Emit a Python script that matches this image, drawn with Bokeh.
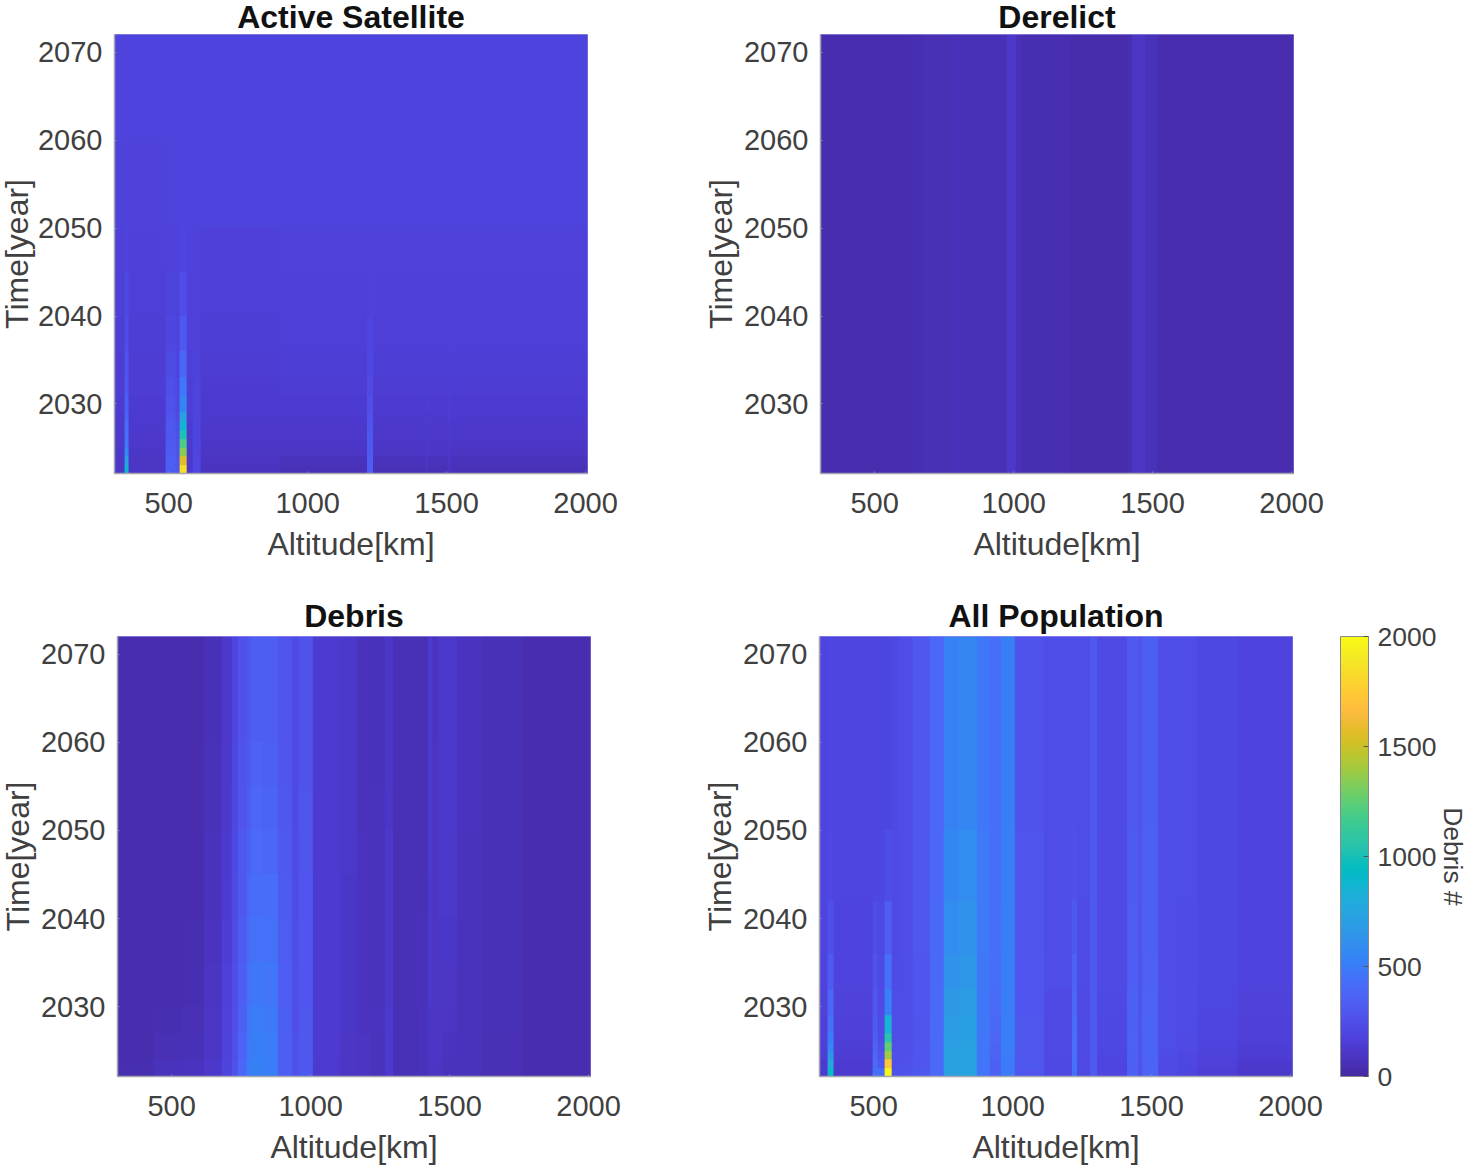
import numpy as np
from bokeh.embed import file_html
from bokeh.layouts import column, row
from bokeh.models import ColorBar, FixedTicker, LinearAxis, LinearColorMapper
from bokeh.plotting import figure
from bokeh.resources import INLINE

# ---------------- chart data ----------------
titles = ["Active Satellite", "Derelict", "Debris", "All Population"]
x_ticks = [500, 1000, 1500, 2000]
y_ticks = [2030, 2040, 2050, 2060, 2070]
cbar_ticks = [0, 500, 1000, 1500, 2000]
x_label = "Altitude[km]"
y_label = "Time[year]"
cbar_label = "Debris #"

# Active Satellite
a_alt = [305, 341, 355, 491, 524, 541, 563, 585, 613, 900, 1212, 1233, 1419, 1430, 1502, 1516, 2010]
a_year = [2022, 2023, 2024, 2025, 2026, 2027, 2028, 2029, 2031, 2033, 2036, 2040, 2045, 2050, 2060, 2072]
a_vals = [
    [95, 880, 95, 340, 300, 1850, 110, 205, 80, 62, 330, 62, 85, 62, 90, 58],
    [100, 700, 100, 330, 285, 1560, 115, 200, 88, 76, 320, 76, 95, 76, 100, 72],
    [108, 560, 108, 320, 270, 1350, 122, 195, 98, 94, 310, 94, 110, 94, 112, 90],
    [115, 480, 115, 310, 260, 1200, 130, 192, 106, 106, 300, 106, 120, 106, 122, 104],
    [122, 440, 122, 300, 245, 1020, 135, 190, 114, 116, 290, 116, 128, 116, 130, 115],
    [128, 400, 128, 290, 235, 860, 140, 188, 120, 124, 275, 124, 135, 124, 136, 123],
    [132, 370, 132, 280, 225, 720, 145, 185, 126, 130, 260, 130, 140, 130, 142, 130],
    [136, 340, 136, 265, 215, 560, 150, 182, 132, 136, 245, 136, 145, 136, 146, 136],
    [142, 300, 142, 245, 205, 470, 155, 180, 138, 143, 225, 143, 150, 143, 152, 143],
    [148, 270, 148, 225, 195, 390, 160, 178, 146, 150, 205, 150, 155, 150, 158, 150],
    [155, 240, 155, 200, 185, 310, 165, 175, 153, 158, 188, 158, 161, 158, 163, 158],
    [162, 212, 162, 180, 176, 240, 170, 174, 161, 165, 178, 165, 167, 165, 168, 165],
    [170, 186, 170, 176, 176, 192, 174, 176, 170, 172, 174, 172, 173, 172, 174, 172],
    [178, 180, 178, 180, 180, 182, 180, 180, 180, 180, 180, 180, 180, 180, 180, 180],
    [185, 185, 185, 185, 185, 185, 185, 185, 185, 185, 185, 185, 185, 185, 185, 185],
]

# Derelict
b_alt = [305, 617, 674, 782, 799, 975, 1004, 1032, 1201, 1405, 1423, 1441, 1470, 1516, 2010]
b_year = [2022, 2072]
b_vals = [
    [32, 40, 52, 70, 60, 110, 56, 42, 30, 42, 100, 95, 70, 32],
]

# Debris
c_alt = [305, 434, 534, 617, 678, 713, 735, 771, 785, 825, 878, 928, 957, 1007, 1104, 1165, 1212,
         1265, 1294, 1384, 1419, 1437, 1455, 1473, 1523, 1616, 1760, 2010]
c_year = [2022, 2024, 2027, 2030, 2035, 2040, 2045, 2050, 2055, 2060, 2072]
c_vals = [
    [40, 75, 85, 112, 180, 262, 385, 505, 525, 505, 342, 250, 292, 132, 98, 86, 76, 128, 60, 72, 92, 92, 92, 78, 72, 52, 35],
    [36, 48, 56, 100, 174, 256, 365, 485, 510, 495, 340, 250, 290, 134, 100, 86, 78, 130, 60, 74, 98, 94, 94, 84, 74, 54, 35],
    [35, 40, 48, 94, 166, 248, 350, 465, 495, 485, 338, 248, 290, 135, 102, 85, 79, 128, 61, 72, 104, 94, 98, 90, 76, 55, 35],
    [35, 36, 42, 90, 158, 242, 335, 440, 475, 465, 334, 244, 288, 135, 104, 85, 78, 124, 61, 68, 110, 92, 102, 98, 77, 55, 35],
    [35, 35, 40, 84, 148, 234, 320, 410, 450, 440, 328, 240, 285, 135, 106, 84, 76, 120, 62, 64, 116, 90, 106, 106, 78, 55, 35],
    [35, 35, 38, 78, 138, 222, 304, 375, 425, 415, 318, 234, 282, 135, 108, 82, 74, 114, 62, 60, 120, 90, 110, 110, 78, 55, 35],
    [34, 34, 37, 73, 130, 212, 292, 348, 400, 390, 310, 230, 280, 135, 110, 80, 72, 110, 62, 56, 125, 90, 114, 114, 78, 55, 35],
    [34, 34, 36, 68, 122, 204, 280, 325, 380, 368, 298, 226, 276, 135, 110, 78, 71, 108, 61, 54, 128, 88, 118, 118, 79, 55, 35],
    [34, 34, 35, 64, 116, 197, 270, 306, 360, 348, 288, 222, 272, 135, 110, 76, 70, 106, 60, 52, 130, 86, 120, 120, 80, 55, 35],
    [34, 34, 35, 60, 110, 190, 260, 290, 340, 330, 280, 220, 270, 135, 110, 75, 70, 105, 60, 50, 130, 85, 120, 120, 80, 55, 35],
]

# All Population
d_alt = [305, 337, 355, 495, 513, 541, 563, 592, 642, 699, 749, 803, 868, 914, 957, 1007, 1108, 1212,
         1229, 1276, 1301, 1412, 1448, 1466, 1520, 1588, 1659, 1803, 2010]
d_year = [2022, 2023, 2024, 2025, 2026, 2027, 2029, 2032, 2036, 2042, 2050, 2072]
d_vals = [
    [130, 930, 125, 440, 420, 1980, 260, 270, 290, 395, 720, 730, 460, 350, 490, 285, 210, 440, 215, 305, 190, 345, 270, 360, 220, 190, 155, 115],
    [140, 760, 135, 400, 310, 1720, 255, 260, 285, 395, 720, 730, 465, 350, 490, 290, 215, 440, 220, 310, 195, 345, 275, 365, 225, 200, 165, 130],
    [150, 640, 145, 380, 270, 1400, 250, 255, 285, 395, 720, 730, 465, 360, 495, 290, 220, 435, 220, 310, 200, 350, 275, 370, 230, 210, 175, 145],
    [160, 560, 155, 360, 250, 1250, 245, 250, 285, 395, 710, 720, 465, 365, 495, 290, 225, 430, 222, 310, 205, 355, 280, 370, 235, 220, 185, 155],
    [165, 500, 160, 340, 240, 1050, 240, 245, 280, 395, 690, 700, 465, 375, 500, 290, 225, 430, 225, 310, 210, 355, 280, 370, 240, 225, 190, 165],
    [170, 440, 165, 320, 230, 850, 235, 240, 280, 395, 680, 700, 470, 385, 500, 290, 225, 420, 225, 305, 210, 350, 280, 370, 245, 228, 195, 170],
    [175, 380, 175, 295, 225, 520, 235, 240, 285, 395, 660, 680, 470, 410, 505, 285, 225, 390, 225, 310, 215, 345, 280, 365, 245, 230, 200, 175],
    [185, 320, 180, 270, 225, 430, 230, 240, 285, 392, 620, 650, 470, 420, 510, 285, 235, 360, 230, 310, 220, 335, 280, 355, 248, 232, 205, 180],
    [190, 250, 185, 235, 215, 330, 225, 240, 290, 392, 590, 620, 480, 425, 510, 280, 240, 310, 232, 310, 222, 325, 275, 350, 248, 232, 205, 182],
    [195, 205, 190, 200, 200, 235, 225, 240, 290, 390, 560, 590, 480, 420, 510, 275, 240, 265, 235, 305, 225, 315, 275, 345, 248, 235, 205, 185],
    [195, 198, 190, 195, 195, 200, 215, 235, 290, 385, 530, 560, 470, 420, 510, 270, 245, 248, 235, 300, 225, 310, 270, 340, 245, 235, 205, 185],
]

# MATLAB parula, 64 levels
parula_rgb = [
    (.2422, .1504, .6603), (.2504, .1650, .7076), (.2578, .1818, .7511), (.2647, .1978, .7952),
    (.2706, .2147, .8364), (.2751, .2342, .8710), (.2783, .2559, .8991), (.2803, .2782, .9221),
    (.2813, .3006, .9414), (.2810, .3228, .9579), (.2795, .3447, .9717), (.2760, .3667, .9829),
    (.2699, .3892, .9906), (.2602, .4123, .9952), (.2440, .4358, .9988), (.2206, .4603, .9973),
    (.1963, .4847, .9892), (.1834, .5074, .9798), (.1786, .5289, .9682), (.1764, .5499, .9520),
    (.1687, .5703, .9359), (.1540, .5902, .9218), (.1460, .6091, .9079), (.1380, .6276, .8973),
    (.1248, .6459, .8883), (.1113, .6635, .8763), (.0952, .6798, .8598), (.0689, .6948, .8394),
    (.0297, .7082, .8163), (.0036, .7203, .7917), (.0067, .7312, .7660), (.0433, .7411, .7394),
    (.0964, .7500, .7120), (.1408, .7584, .6842), (.1717, .7670, .6554), (.1938, .7758, .6251),
    (.2161, .7843, .5923), (.2470, .7918, .5567), (.2906, .7973, .5188), (.3406, .8008, .4789),
    (.3909, .8029, .4354), (.4456, .8024, .3909), (.5044, .7993, .3480), (.5616, .7942, .3045),
    (.6174, .7876, .2612), (.6720, .7793, .2227), (.7242, .7698, .1910), (.7738, .7598, .1646),
    (.8203, .7498, .1535), (.8634, .7406, .1596), (.9035, .7330, .1774), (.9393, .7288, .2100),
    (.9728, .7298, .2394), (.9956, .7434, .2371), (.9970, .7659, .2199), (.9952, .7893, .2028),
    (.9892, .8136, .1885), (.9786, .8386, .1766), (.9676, .8639, .1643), (.9610, .8890, .1537),
    (.9597, .9135, .1423), (.9628, .9373, .1265), (.9691, .9606, .1064), (.9769, .9839, .0805),
]
_rgb = np.array(parula_rgb)
_t = np.linspace(0, 1, 256)
_lev = np.linspace(0, 1, 64)
PALETTE = []
for t in _t:
    r, g, b = (np.interp(t, _lev, _rgb[:, i]) for i in range(3))
    PALETTE.append("#%02x%02x%02x" % (
        min(255, round(r * 255 + 8 * (1 - t))),
        min(255, round(g * 255 + 4 * (1 - t))),
        round(b * 255 * (1 - 0.03 * (1 - t))),
    ))
mapper = LinearColorMapper(palette=PALETTE, low=0, high=2000)

FONT = "Liberation Sans"
TEXT = "#404040"
X0, X1, Y0, Y1 = 305, 2007, 2022.1, 2072
ALT_STEP = 5
ROW_START, ROW_END = 2022, 2072


def grid(alt_edges, year_edges, vals):
    """Lay the read-off blocks out on a regular altitude/year raster."""
    vals = np.asarray(vals, dtype=float)
    alts = np.arange(X0, X1 + ALT_STEP, ALT_STEP) + ALT_STEP / 2
    alts = alts[alts < alt_edges[-1]]
    years = np.arange(ROW_START, ROW_END) + 0.5
    ci = np.searchsorted(alt_edges, alts) - 1
    ri = np.searchsorted(year_edges, years) - 1
    return vals[np.ix_(ri, ci)]


def panel(title, alts, years, vals, left, right, top, bottom, fh, title_gap, ylabel_gap=2):
    p = figure(
        width=left + 473 + right, height=top + fh + bottom,
        frame_width=473, frame_height=fh,
        min_border_left=left, min_border_right=right, min_border_top=top, min_border_bottom=bottom,
        x_range=(X0, X1), y_range=(Y0, Y1),
        title=title, toolbar_location=None, output_backend="svg",
    )
    img = grid(alts, years, vals)
    p.image(image=[img], x=X0, y=ROW_START, dw=img.shape[1] * ALT_STEP, dh=ROW_END - ROW_START, color_mapper=mapper)
    p.grid.visible = False
    p.outline_line_color = "#8e8ae0"
    p.title.align = "center"
    p.title.text_font = FONT
    p.title.text_font_size = "32px"
    p.title.text_font_style = "bold"
    p.title.text_color = "#111111"
    p.title.text_line_height = 0.85
    p.title.standoff = title_gap
    p.title.offset = 0
    for ax, ticks, lab in ((p.xaxis[0], x_ticks, x_label), (p.yaxis[0], y_ticks, y_label)):
        ax.ticker = FixedTicker(ticks=ticks)
        ax.axis_label = lab
        ax.axis_label_text_font = FONT
        ax.axis_label_text_font_size = "32px"
        ax.axis_label_text_font_style = "normal"
        ax.axis_label_text_color = TEXT
        ax.major_label_text_font = FONT
        ax.major_label_text_font_size = "29px"
        ax.major_label_text_color = TEXT
        ax.axis_line_color = "#a5a5b0"
        ax.axis_line_width = 1.5
        ax.major_tick_in = 2
        ax.major_tick_out = 0
        ax.major_tick_line_color = "#8a8ab0"
        ax.minor_tick_line_color = None
    p.xaxis[0].major_label_standoff = 19
    p.xaxis[0].axis_label_standoff = 10
    p.yaxis[0].major_label_standoff = 12
    p.yaxis[0].axis_label_standoff = ylabel_gap
    return p


pa = panel(titles[0], a_alt, a_year, a_vals, 122, 111, 38, 119, 439, 0, ylabel_gap=0)
pb = panel(titles[1], b_alt, b_year, b_vals, 122, 173, 38, 119, 439, 0)
pc = panel(titles[2], c_alt, c_year, c_vals, 125, 107, 44, 90, 440, 6)
pd_ = panel(titles[3], d_alt, d_year, d_vals, 122, 174, 44, 90, 440, 6)

cb = ColorBar(
    color_mapper=mapper, width=28, height=440, margin=0, padding=0,
    location=(521, 0),
    ticker=FixedTicker(ticks=cbar_ticks),
    major_label_text_font=FONT, major_label_text_font_size="26.5px", major_label_text_color=TEXT,
    major_tick_line_color="#555555", major_tick_in=5, major_tick_out=0,
    bar_line_color="#8a8a8a", label_standoff=9,
)
pd_.add_layout(cb)
cb_title = LinearAxis(
    ticker=FixedTicker(ticks=[]), axis_label=cbar_label, axis_line_color=None,
    major_tick_line_color=None, minor_tick_line_color=None, major_label_text_font_size="0px",
    axis_label_text_font=FONT, axis_label_text_font_size="26.5px", axis_label_text_font_style="normal",
    axis_label_text_color=TEXT, axis_label_standoff=145,
)
pd_.add_layout(cb_title, "right")

root = column(row(pa, pb), row(pc, pd_), styles={"position": "absolute", "left": "-8px", "top": "-4px"})
open("out.html", "w").write(file_html(root, INLINE))
